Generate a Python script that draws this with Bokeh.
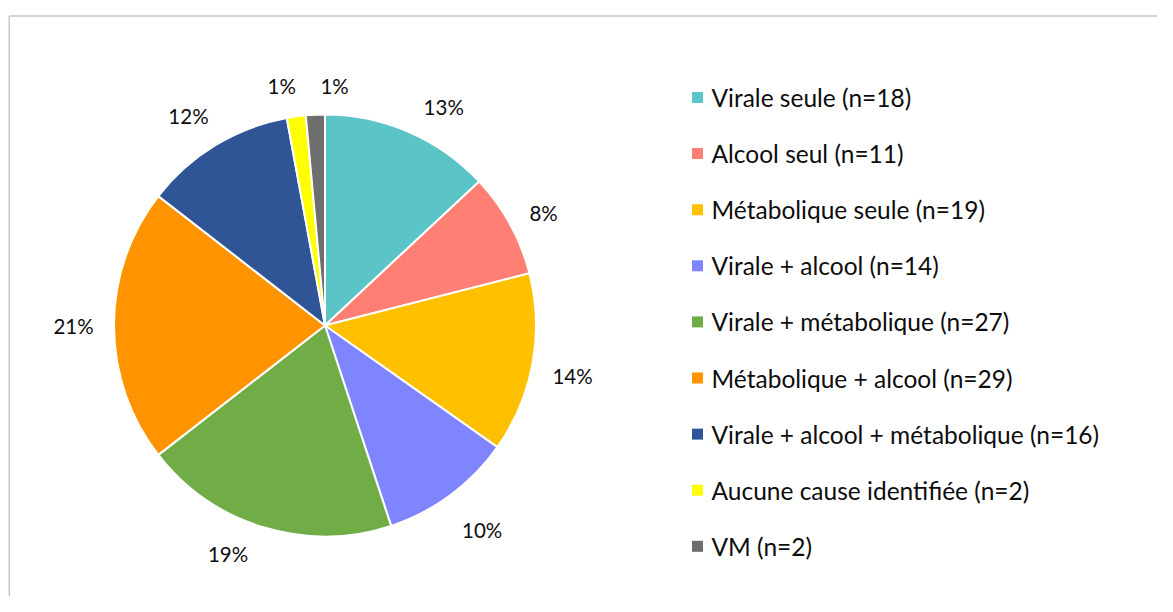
import math
from bokeh.plotting import figure
from bokeh.models import Range1d, ColumnDataSource
from bokeh.core.properties import value
from bokeh.embed import file_html
from bokeh.resources import INLINE

# ---- data ----
categories = [
    "Virale seule (n=18)",
    "Alcool seul (n=11)",
    "Métabolique seule (n=19)",
    "Virale + alcool (n=14)",
    "Virale + métabolique (n=27)",
    "Métabolique + alcool (n=29)",
    "Virale + alcool + métabolique (n=16)",
    "Aucune cause identifiée (n=2)",
    "VM (n=2)",
]
counts = [18, 11, 19, 14, 27, 29, 16, 2, 2]
pct_labels = ["13%", "8%", "14%", "10%", "19%", "21%", "12%", "1%", "1%"]
colors = ["#5BC4C6", "#FF7F74", "#FFC000", "#7F84FF", "#70AD47",
          "#FF9300", "#2F5597", "#FFFF00", "#6E6E6E"]

# ---- layout (pixel-like data units: x = screen x, y = -screen y) ----
W, H = 1157, 596
cx, cy, R = 324.5, -325.0, 211.0
label_r = 250.0
label_nudge_deg = [5, 1.4, 1, -1, 6, 0, -1.8, -2.4, 4.9]
label_nudge_r = [-1, -4, 2.5, 8, -1.5, 1.5, 0, -6.5, -10]
FONT = "Lato"

total = float(sum(counts))
starts, ends, lx, ly = [], [], [], []
cum = 0.0
for i, c in enumerate(counts):
    a0 = cum / total * 360.0
    cum += c
    a1 = cum / total * 360.0
    # clockwise from top
    starts.append(math.radians(90 - a0))
    ends.append(math.radians(90 - a1))
    mid = (a0 + a1) / 2 + label_nudge_deg[i]
    r = label_r + label_nudge_r[i]
    lx.append(cx + r * math.sin(math.radians(mid)))
    ly.append(cy + r * math.cos(math.radians(mid)))

src = ColumnDataSource(dict(start=starts, end=ends, color=colors,
                            lx=lx, ly=ly, lab=pct_labels))

p = figure(width=W, height=H, output_backend="svg", toolbar_location=None,
           x_range=Range1d(0, W), y_range=Range1d(-H, 0),
           min_border=0, outline_line_color=None)
p.axis.visible = False
p.xgrid.visible = False
p.ygrid.visible = False
p.background_fill_color = "white"

# chart frame (left and top edges visible)
p.segment(x0=[8.8, 8.8], y0=[-15.5, -15.5], x1=[8.8, 1400], y1=[-900, -15.5],
          line_color="#C6C6C6", line_width=1.5)

p.wedge(x=cx, y=cy, radius=R, start_angle="start", end_angle="end",
        direction="clock", fill_color="color", line_color="white",
        line_width=2, source=src)

p.text(x="lx", y="ly", text="lab", source=src, text_align="center",
       text_baseline="middle", text_font=value(FONT),
       text_font_size=value("20.5px"), text_color="#0d0d0d")

# legend
leg_y = [-(97 + 56.1 * i) for i in range(len(categories))]
leg_src = ColumnDataSource(dict(y=leg_y, color=colors, name=categories))
p.scatter(x=697, y="y", marker="square", size=11, fill_color="color",
          line_color=None, source=leg_src)
p.text(x=711, y="y", text="name", source=leg_src, text_align="left",
       text_baseline="middle", text_font=value(FONT),
       text_font_size=value("24.5px"), text_color="#0d0d0d")

open("out.html", "w").write(file_html(p, INLINE))
